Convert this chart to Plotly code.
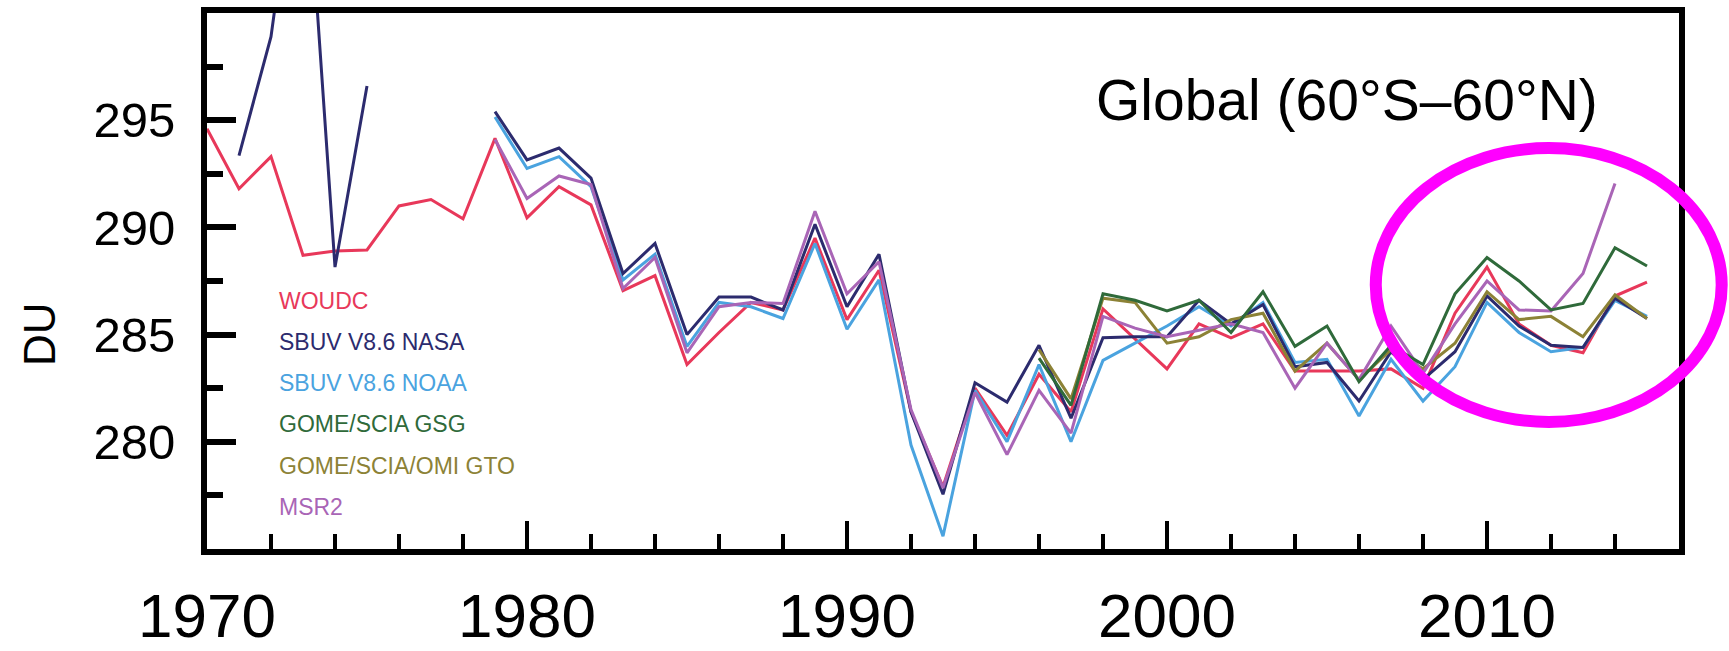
import plotly.graph_objects as go

years = list(range(1970, 2016))

woudc = [294.6, 291.8, 293.3, 288.7, 288.9, 288.95, 291.0, 291.3, 290.4, 294.15,
         290.45, 291.9, 291.05, 287.05, 287.75, 283.6, 285.1, 286.5, 286.15, 289.5,
         285.7, 288.0, 281.4, 277.9, 282.5, 280.3, 283.15, 281.4, 286.2, 284.8,
         283.4, 285.5, 284.85, 285.5, 283.3, 283.3, 283.3, 283.4, 282.5, 286.0,
         288.15, 285.5, 284.5, 284.15, 286.8, 287.45]

sbuv_nasa = [None, 293.35, 298.9, 309.8, 288.15, 296.6, None, None, None, 295.4,
             293.15, 293.7, 292.3, 287.85, 289.25, 285.0, 286.75, 286.75, 286.15, 290.15,
             286.3, 288.75, 281.4, 277.55, 282.75, 281.85, 284.5, 281.1, 284.85, 284.9,
             284.9, 286.6, 285.5, 286.4, 283.5, 283.7, 281.9, 284.2, 282.9, 284.2,
             286.8, 285.4, 284.5, 284.4, 286.7, 285.75]

sbuv_noaa = [None, None, None, None, None, None, None, None, None, 295.15,
             292.75, 293.3, 291.9, 287.55, 288.75, 284.45, 286.5, 286.3, 285.75, 289.25,
             285.25, 287.55, 279.85, 275.6, 282.4, 280.0, 283.6, 280.0, 283.8, 284.6,
             285.4, 286.3, 285.4, 286.5, 283.7, 283.85, 281.2, 283.85, 281.9, 283.5,
             286.5, 285.1, 284.2, 284.4, 286.6, 285.85]

gome_gsg = [None] * 26 + [283.9, 281.7, 286.9, 286.6,
            286.1, 286.6, 285.1, 287.0, 284.45, 285.4, 282.8, 284.5, 283.6, 286.9,
            288.6, 287.5, 286.15, 286.45, 289.05, 288.2]

gome_gto = [None] * 26 + [284.3, 282.0, 286.7, 286.5,
            284.6, 284.9, 285.7, 286.0, 283.3, 284.6, 282.9, 284.3, 283.4, 284.6,
            287.0, 285.7, 285.85, 284.9, 286.85, 285.75]

msr2 = [None] * 9 + [294.1,
        291.35, 292.4, 292.0, 287.15, 288.6, 284.15, 286.3, 286.5, 286.45, 290.75,
        286.9, 288.4, 281.5, 277.85, 282.3, 279.4, 282.4, 280.4, 285.85, 285.3,
        284.9, 285.2, 285.5, 285.1, 282.5, 284.6, 282.9, 285.4, 283.2, 285.5,
        287.5, 286.15, 286.1, 287.85, 292.05, None]

series_names = ["WOUDC", "SBUV V8.6 NASA", "SBUV V8.6 NOAA",
                "GOME/SCIA GSG", "GOME/SCIA/OMI GTO", "MSR2"]
series_values = [woudc, sbuv_nasa, sbuv_noaa, gome_gsg, gome_gto, msr2]
series_colors = ["#e8385a", "#2c2b6e", "#4aa3df", "#2f6a3a", "#8c8236", "#a965b6"]

x_tick_vals = [1970, 1980, 1990, 2000, 2010]
x_minor_vals = [1972, 1974, 1976, 1978, 1982, 1984, 1986, 1988, 1992, 1994, 1996,
                1998, 2002, 2004, 2006, 2008, 2012, 2014]
y_tick_vals = [280, 285, 290, 295]
y_minor_vals = [277.5, 282.5, 287.5, 292.5, 297.5]

title_text = "Global (60°S–60°N)"
y_title = "DU"

REG = "Liberation Sans, Arial, sans-serif"

fig = go.Figure()
draw_order = [0, 2, 1, 4, 5, 3]
for i in draw_order:
    fig.add_trace(go.Scatter(x=years, y=series_values[i], mode="lines",
                             name=series_names[i],
                             line=dict(color=series_colors[i], width=3),
                             connectgaps=False, showlegend=False))

# colored-text legend
for k, (nm, col) in enumerate(zip(series_names, series_colors)):
    fig.add_annotation(xref="paper", yref="paper", x=0.0476, y=0.4636 - k * 0.0771,
                       xanchor="left", yanchor="middle", text=nm, showarrow=False,
                       font=dict(family=REG, size=23, color=col))

fig.add_annotation(xref="paper", yref="paper", x=0.9465, y=0.8377,
                   xanchor="right", yanchor="middle", text=title_text, showarrow=False,
                   font=dict(family=REG, size=57, color="black"))

fig.add_annotation(xref="paper", yref="paper", x=-0.1141, y=0.401,
                   xanchor="center", yanchor="middle", text=y_title, showarrow=False,
                   textangle=-90, font=dict(family=REG, size=44, color="black"))

fig.add_shape(type="circle", xref="paper", yref="paper",
              x0=0.794, x1=1.029, y0=0.237, y1=0.748,
              line=dict(color="#ff00ff", width=12))

fig.update_layout(
    width=1729, height=651,
    margin=dict(l=207, r=50, t=13, b=102),
    paper_bgcolor="white", plot_bgcolor="white",
    showlegend=False,
)
fig.update_xaxes(
    range=[1970, 2016], tickmode="array", tickvals=x_tick_vals,
    ticks="inside", ticklen=28, tickwidth=4, tickcolor="black",
    showline=True, linewidth=6, linecolor="black", mirror=True,
    showgrid=False, zeroline=False, automargin=False,
    tickfont=dict(family=REG, size=62, color="black"),
    ticklabelstandoff=8,
    minor=dict(tickmode="array", tickvals=x_minor_vals, ticks="inside",
               ticklen=15, tickwidth=4, tickcolor="black", showgrid=False),
)
fig.update_yaxes(
    range=[275, 300], tickmode="array", tickvals=y_tick_vals,
    ticks="inside", ticklen=29, tickwidth=6, tickcolor="black",
    showline=True, linewidth=6, linecolor="black", mirror=True,
    showgrid=False, zeroline=False, automargin=False,
    tickfont=dict(family=REG, size=49, color="black"),
    ticklabelstandoff=16,
    minor=dict(tickmode="array", tickvals=y_minor_vals, ticks="inside",
               ticklen=16, tickwidth=6, tickcolor="black", showgrid=False),
)

fig.write_html("out.html")
